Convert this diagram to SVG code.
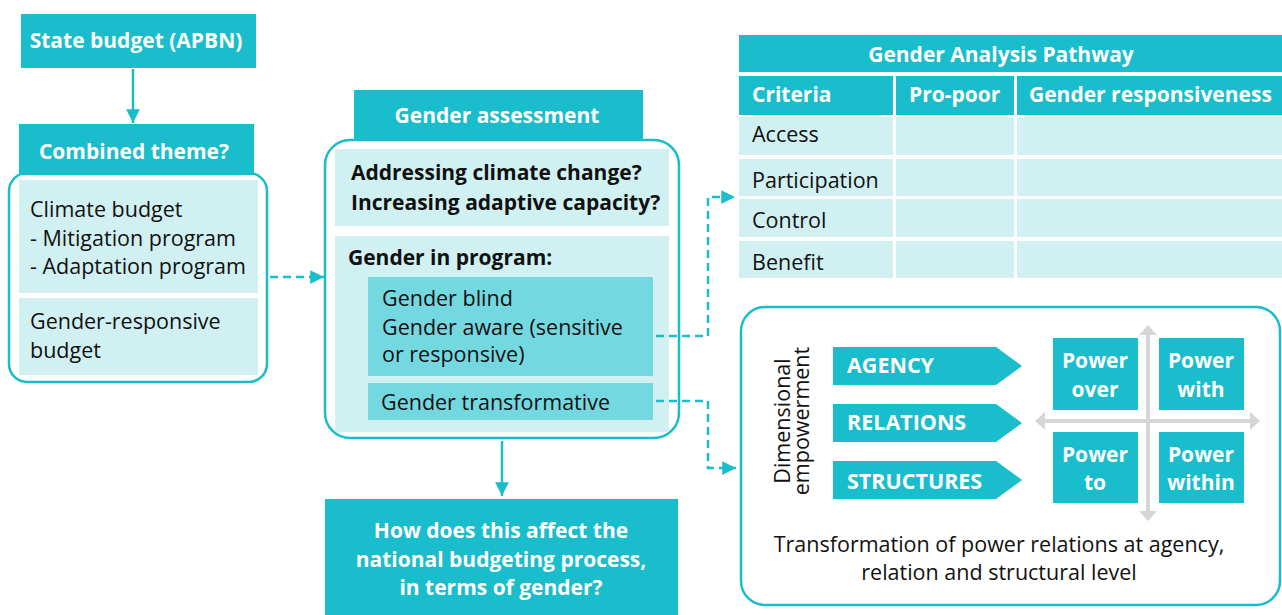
<svg xmlns="http://www.w3.org/2000/svg" width="1282" height="615" viewBox="0 0 1282 615">
  <defs>
    <style>
      .hdr { fill: #19bdcb; }
      .pale { fill: #d0f0f2; }
      .mid { fill: #74d8e0; }
      .frame { fill: #ffffff; stroke: #19bdcb; stroke-width: 2.5; }
      .t { font-family: "Open Sans", "Liberation Sans", sans-serif; font-size: 21.5px; fill: #111111; }
      .tb { font-family: "Open Sans", "Liberation Sans", sans-serif; font-size: 21px; font-weight: bold; fill: #111111; }
      .w { font-family: "Open Sans", "Liberation Sans", sans-serif; font-size: 21px; font-weight: bold; fill: #ffffff; }
      .caps { font-size: 21.5px; }
      .mid-a { text-anchor: middle; }
      .solid { stroke: #19bdcb; stroke-width: 2.5; fill: none; }
      .dash { stroke: #19bdcb; stroke-width: 2.5; fill: none; stroke-dasharray: 8 5; }
      .axis { stroke: #d6d6d6; stroke-width: 4; fill: none; }
      .axis-tip { fill: #d6d6d6; }
    </style>
    <marker id="head" viewBox="0 0 10 10" refX="10" refY="5" markerWidth="5.5" markerHeight="5.5" markerUnits="strokeWidth" orient="auto">
      <path d="M0,0 L10,5 L0,10 z" fill="#19bdcb"/>
    </marker>
  </defs>

  <!-- left column -->
  <g id="state-budget">
    <rect class="hdr" x="21" y="14" width="235" height="54"/>
    <text class="w mid-a" x="136" y="48">State budget (APBN)</text>
  </g>

  <g id="combined-theme">
    <rect class="frame" x="9" y="173" width="258" height="209" rx="18"/>
    <rect class="hdr" x="19" y="124" width="235" height="51"/>
    <text class="w mid-a" x="134" y="159">Combined theme?</text>
    <rect class="pale" x="19" y="180" width="239" height="113"/>
    <text class="t" x="30" y="217">Climate budget</text>
    <text class="t" x="30" y="246">- Mitigation program</text>
    <text class="t" x="30" y="274">- Adaptation program</text>
    <rect class="pale" x="19" y="298" width="239" height="77"/>
    <text class="t" x="30" y="329">Gender-responsive</text>
    <text class="t" x="30" y="358">budget</text>
  </g>

  <!-- middle column -->
  <g id="gender-assessment">
    <rect class="frame" x="325" y="140" width="354" height="298" rx="25"/>
    <rect class="hdr" x="354" y="90" width="289" height="51"/>
    <text class="w mid-a" x="497" y="123">Gender assessment</text>
    <rect class="pale" x="335" y="149" width="334" height="77"/>
    <text class="tb" x="351" y="180">Addressing climate change?</text>
    <text class="tb" x="351" y="210">Increasing adaptive capacity?</text>
    <rect class="pale" x="335" y="236" width="334" height="196"/>
    <text class="tb" x="348" y="265">Gender in program:</text>
    <rect class="mid" x="368" y="277" width="285" height="99"/>
    <text class="t" x="382" y="306">Gender blind</text>
    <text class="t" x="382" y="335">Gender aware (sensitive</text>
    <text class="t" x="382" y="362">or responsive)</text>
    <rect class="mid" x="368" y="383" width="285" height="37"/>
    <text class="t" x="381" y="410">Gender transformative</text>
  </g>

  <g id="budget-question">
    <rect class="hdr" x="325" y="499" width="353" height="116"/>
    <text class="w mid-a" x="501" y="538">How does this affect the</text>
    <text class="w mid-a" x="501" y="567">national budgeting process,</text>
    <text class="w mid-a" x="501" y="595">in terms of gender?</text>
  </g>

  <!-- analysis table -->
  <g id="gender-analysis-pathway">
    <rect class="hdr" x="739" y="35" width="543" height="37"/>
    <text class="w mid-a" x="1001" y="62">Gender Analysis Pathway</text>
    <rect class="hdr" x="739" y="76" width="154" height="39"/>
    <rect class="hdr" x="896" y="76" width="118" height="39"/>
    <rect class="hdr" x="1017" y="76" width="265" height="39"/>
    <text class="w" x="752" y="102">Criteria</text>
    <text class="w" x="909" y="102">Pro-poor</text>
    <text class="w" x="1029" y="102">Gender responsiveness</text>
    <g class="pale">
      <rect x="739" y="117" width="154" height="38"/>
      <rect x="896" y="117" width="118" height="38"/>
      <rect x="1017" y="117" width="265" height="38"/>
      <rect x="739" y="159" width="154" height="37"/>
      <rect x="896" y="159" width="118" height="37"/>
      <rect x="1017" y="159" width="265" height="37"/>
      <rect x="739" y="199" width="154" height="38"/>
      <rect x="896" y="199" width="118" height="38"/>
      <rect x="1017" y="199" width="265" height="38"/>
      <rect x="739" y="241" width="154" height="37"/>
      <rect x="896" y="241" width="118" height="37"/>
      <rect x="1017" y="241" width="265" height="37"/>
    </g>
    <text class="t" x="752" y="142">Access</text>
    <text class="t" x="752" y="188">Participation</text>
    <text class="t" x="752" y="228">Control</text>
    <text class="t" x="752" y="270">Benefit</text>
  </g>

  <!-- empowerment panel -->
  <g id="dimensional-empowerment">
    <rect class="frame" x="741" y="307" width="539" height="298" rx="24"/>
    <text class="t mid-a" font-size="22" transform="translate(790 421) rotate(-90)">Dimensional</text>
    <text class="t mid-a" font-size="22" transform="translate(809 421) rotate(-90)">empowerment</text>

    <path class="hdr" d="M833,347 H996 L1022,366 L996,385 H833 z"/>
    <text class="w caps" x="847" y="373">AGENCY</text>
    <path class="hdr" d="M833,404 H996 L1022,423 L996,442 H833 z"/>
    <text class="w caps" x="847" y="430">RELATIONS</text>
    <path class="hdr" d="M833,461 H996 L1022,480 L996,499 H833 z"/>
    <text class="w caps" x="847" y="489">STRUCTURES</text>

    <line class="axis" x1="1148" y1="333" x2="1148" y2="513"/>
    <line class="axis" x1="1043" y1="421" x2="1252" y2="421"/>
    <path class="axis-tip" d="M1148,325 L1157,335 H1139 z"/>
    <path class="axis-tip" d="M1148,521 L1157,511 H1139 z"/>
    <path class="axis-tip" d="M1035,421 L1045,412 V430 z"/>
    <path class="axis-tip" d="M1260,421 L1250,412 V430 z"/>

    <rect class="hdr" x="1053" y="338" width="85" height="72"/>
    <text class="w mid-a" x="1095" y="368">Power</text>
    <text class="w mid-a" x="1095" y="397">over</text>
    <rect class="hdr" x="1159" y="338" width="85" height="72"/>
    <text class="w mid-a" x="1201" y="368">Power</text>
    <text class="w mid-a" x="1201" y="397">with</text>
    <rect class="hdr" x="1053" y="432" width="85" height="71"/>
    <text class="w mid-a" x="1095" y="462">Power</text>
    <text class="w mid-a" x="1095" y="490">to</text>
    <rect class="hdr" x="1159" y="432" width="85" height="71"/>
    <text class="w mid-a" x="1201" y="462">Power</text>
    <text class="w mid-a" x="1201" y="490">within</text>

    <text class="t mid-a" x="999" y="552">Transformation of power relations at agency,</text>
    <text class="t mid-a" x="999" y="580">relation and structural level</text>
  </g>

  <!-- connectors -->
  <g id="connectors">
    <line class="solid" x1="133" y1="69" x2="133" y2="123" marker-end="url(#head)"/>
    <line class="dash" x1="270" y1="277" x2="324" y2="277" marker-end="url(#head)"/>
    <polyline class="dash" points="656,336 708,336 708,197 735,197" marker-end="url(#head)"/>
    <polyline class="dash" points="656,401 708,401 708,468 736,468" marker-end="url(#head)"/>
    <line class="solid" x1="502" y1="441" x2="502" y2="496" marker-end="url(#head)"/>
  </g>
</svg>
